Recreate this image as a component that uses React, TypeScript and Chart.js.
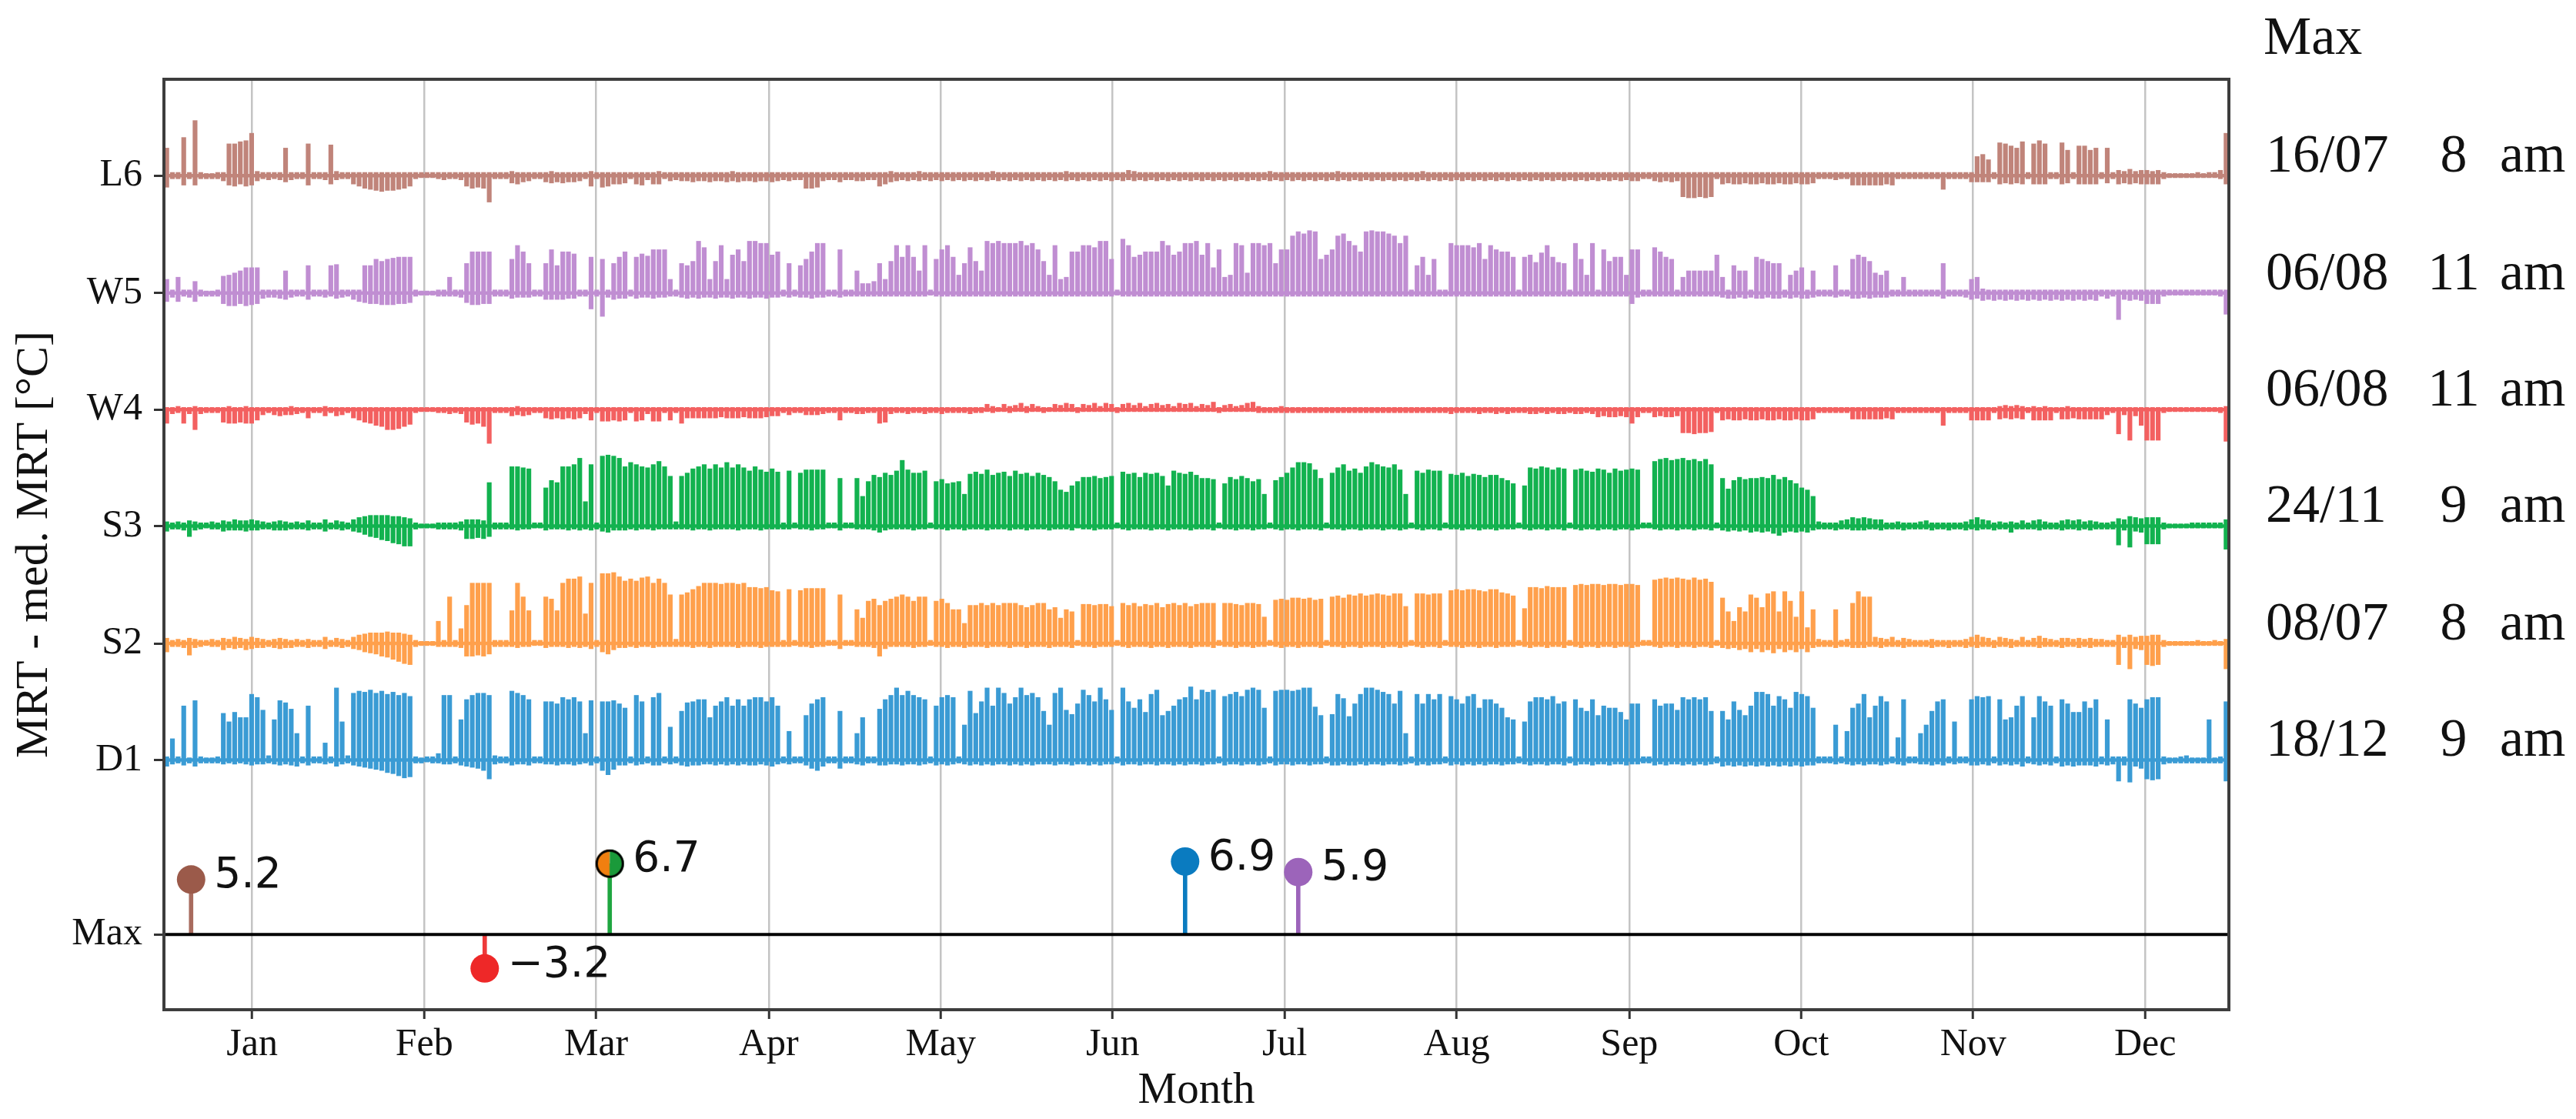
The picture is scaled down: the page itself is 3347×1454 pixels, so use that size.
import React, { useEffect, useRef } from "react";
import { Chart, registerables } from "chart.js";

Chart.register(...registerables);

// ---------- axis / categories ----------
const MONTHS = ["Jan", "Feb", "Mar", "Apr", "May", "Jun", "Jul", "Aug", "Sep", "Oct", "Nov", "Dec"];
const MONTH_TICKS = [15.6, 46.0, 76.4, 106.9, 137.3, 167.7, 198.1, 228.5, 259.0, 289.4, 319.8, 350.2];
const Y_TICK_LABELS = ["Max", "D1", "S2", "S3", "W4", "W5", "L6"];
const Y_TICK_VALUES = [0, 16.5, 27.5, 38.6, 49.6, 60.6, 71.7];

// ---------- series ----------
const SERIES = ["D1", "S2", "S3", "W4", "W5", "L6"];
const SERIES_OFFSET = [16.5, 27.5, 38.6, 49.6, 60.6, 71.7];
const SERIES_COLOR = ["#3a9bd4", "#ffa04c", "#12b24f", "#f36060", "#c08ed2", "#c0847a"];

// daily peak (above) and dip (below) of MRT - median MRT, degC
const D1_HI = [
  0.3,2.0,0.3,5.1,0.2,5.6,0.3,0.2,0.2,0.3,
  4.4,3.6,4.5,4.0,4.0,6.2,5.9,4.7,0.4,3.8,
  5.6,5.4,4.8,2.5,0.3,5.1,0.3,0.3,1.6,0.3,
  6.8,3.6,0.4,6.3,6.5,6.4,6.6,6.3,6.5,6.2,
  6.4,6.1,6.3,6.0,0.3,0.2,0.3,0.3,0.6,6.1,
  6.1,0.3,3.8,5.7,6.1,6.3,6.3,6.1,0.4,0.3,
  0.3,6.5,6.3,6.1,5.7,0.3,0.3,5.5,5.5,5.3,
  5.9,5.7,5.9,5.5,2.5,5.6,0.3,5.5,5.5,5.6,
  5.3,4.9,0.3,6.1,5.5,0.3,5.9,6.3,0.3,3.1,
  0.3,4.6,5.4,5.5,5.7,5.7,4.0,5.1,5.5,5.9,
  5.1,5.7,5.1,5.7,5.9,5.9,5.5,5.9,5.1,0.3,
  2.7,0.3,0.3,4.2,5.3,5.7,5.9,0.3,0.3,4.6,
  0.3,0.3,2.5,4.0,0.3,0.3,4.8,5.7,6.1,6.8,
  6.1,6.5,6.1,5.9,5.7,0.3,5.1,5.9,6.1,5.9,
  0.3,3.3,6.5,4.4,5.5,6.8,5.1,6.8,6.3,5.3,
  5.9,6.8,6.1,6.3,5.9,4.6,3.3,6.3,6.8,4.7,
  4.3,5.3,6.6,6.1,5.5,6.8,5.7,4.7,0.3,6.8,
  5.5,4.9,5.7,4.5,6.2,6.6,4.2,4.6,5.1,5.7,
  5.9,6.9,5.7,6.6,6.4,6.6,0.3,6.0,6.2,6.4,
  6.0,6.6,6.8,6.6,4.9,0.3,6.5,6.6,6.6,6.5,
  6.6,6.8,6.8,5.0,4.2,0.3,4.3,6.2,5.8,4.1,
  5.3,6.2,6.8,6.8,6.6,6.4,6.2,5.3,6.5,2.5,
  0.3,6.2,5.3,6.2,5.7,6.2,0.3,6.0,5.7,5.3,
  6.0,6.2,4.9,5.7,5.7,5.3,4.9,4.0,3.8,0.3,
  3.6,5.5,5.9,5.9,5.7,6.0,5.3,5.5,0.3,5.7,
  4.9,4.6,5.7,4.2,5.1,4.9,4.9,4.5,3.8,5.3,
  5.3,0.3,0.3,5.7,5.1,5.3,5.3,4.7,5.9,5.7,
  5.9,5.7,5.9,4.6,0.3,4.6,3.8,5.5,4.7,4.2,
  5.1,6.4,6.4,6.2,5.1,6.0,5.7,4.9,6.4,6.2,
  6.0,4.9,0.3,0.3,0.3,3.3,0.3,2.7,4.9,5.3,
  6.2,4.0,5.1,6.0,5.5,0.3,2.1,5.7,0.3,0.3,
  2.5,3.3,4.6,5.5,5.7,0.3,3.6,0.3,0.3,5.7,
  6.0,5.9,6.0,0.3,5.7,3.8,4.0,5.1,6.0,0.3,
  4.0,6.0,5.5,5.1,0.3,5.7,5.3,4.5,4.5,5.5,
  4.9,5.7,0.3,3.8,0.3,0.3,0.3,5.7,5.3,4.9,
  5.7,5.9,5.9,0.3,0.2,0.2,0.3,0.4,0.2,0.2,
  0.2,3.8,0.2,0.3,5.5,
];
const D1_LO = [
  -0.6,-0.4,-0.3,-0.5,-0.3,-0.6,-0.3,-0.3,-0.3,-0.3,
  -0.4,-0.3,-0.4,-0.3,-0.4,-0.5,-0.4,-0.4,-0.3,-0.4,
  -0.5,-0.4,-0.5,-0.6,-0.3,-0.5,-0.3,-0.3,-0.4,-0.3,
  -0.6,-0.4,-0.3,-0.5,-0.6,-0.7,-0.8,-0.9,-1.0,-1.2,
  -1.3,-1.5,-1.7,-1.6,-0.3,-0.3,-0.2,-0.3,-0.3,-0.4,
  -0.4,-0.3,-0.5,-0.6,-0.7,-0.8,-1.0,-1.8,-0.4,-0.3,
  -0.3,-0.5,-0.4,-0.4,-0.5,-0.3,-0.3,-0.4,-0.4,-0.5,
  -0.4,-0.4,-0.5,-0.4,-0.3,-0.5,-0.3,-1.0,-1.4,-0.9,
  -0.5,-0.5,-0.3,-0.5,-0.4,-0.3,-0.5,-0.5,-0.3,-0.4,
  -0.3,-0.5,-0.6,-0.5,-0.5,-0.4,-0.4,-0.5,-0.4,-0.5,
  -0.4,-0.5,-0.4,-0.5,-0.5,-0.4,-0.5,-0.6,-0.4,-0.3,
  -0.4,-0.3,-0.3,-0.5,-0.8,-1.0,-0.6,-0.3,-0.3,-0.8,
  -0.3,-0.3,-0.4,-0.5,-0.3,-0.3,-0.5,-0.5,-0.4,-0.4,
  -0.5,-0.4,-0.4,-0.5,-0.4,-0.3,-0.5,-0.4,-0.5,-0.4,
  -0.3,-0.4,-0.5,-0.4,-0.5,-0.4,-0.5,-0.4,-0.4,-0.5,
  -0.4,-0.5,-0.4,-0.5,-0.4,-0.4,-0.4,-0.5,-0.4,-0.4,
  -0.5,-0.4,-0.4,-0.5,-0.4,-0.5,-0.4,-0.4,-0.3,-0.5,
  -0.4,-0.4,-0.5,-0.4,-0.4,-0.5,-0.4,-0.4,-0.5,-0.4,
  -0.5,-0.4,-0.4,-0.5,-0.4,-0.4,-0.3,-0.5,-0.4,-0.4,
  -0.5,-0.4,-0.4,-0.5,-0.4,-0.3,-0.5,-0.4,-0.4,-0.5,
  -0.4,-0.4,-0.5,-0.4,-0.4,-0.3,-0.5,-0.5,-0.4,-0.5,
  -0.5,-0.4,-0.5,-0.4,-0.4,-0.5,-0.4,-0.4,-0.5,-0.4,
  -0.3,-0.5,-0.4,-0.5,-0.4,-0.4,-0.3,-0.5,-0.4,-0.5,
  -0.4,-0.5,-0.4,-0.5,-0.4,-0.4,-0.5,-0.4,-0.4,-0.3,
  -0.4,-0.5,-0.4,-0.4,-0.5,-0.4,-0.4,-0.5,-0.3,-0.5,
  -0.4,-0.4,-0.5,-0.4,-0.4,-0.5,-0.4,-0.4,-0.5,-0.4,
  -0.4,-0.3,-0.3,-0.5,-0.4,-0.5,-0.4,-0.4,-0.5,-0.4,
  -0.5,-0.4,-0.5,-0.4,-0.3,-0.6,-0.5,-0.6,-0.5,-0.6,
  -0.5,-0.6,-0.5,-0.6,-0.5,-0.6,-0.5,-0.6,-0.5,-0.6,
  -0.5,-0.5,-0.3,-0.3,-0.3,-0.4,-0.3,-0.4,-0.5,-0.4,
  -0.5,-0.4,-0.4,-0.5,-0.4,-0.3,-0.4,-0.5,-0.3,-0.3,
  -0.4,-0.4,-0.5,-0.4,-0.5,-0.3,-0.4,-0.3,-0.3,-0.5,
  -0.5,-0.4,-0.5,-0.3,-0.5,-0.4,-0.5,-0.4,-0.6,-0.3,
  -0.4,-0.5,-0.4,-0.5,-0.3,-0.6,-0.5,-0.6,-0.5,-0.5,
  -0.5,-0.6,-0.4,-0.5,-0.4,-2.0,-0.5,-2.1,-0.6,-0.8,
  -1.8,-1.9,-1.8,-0.4,-0.3,-0.3,-0.3,-0.3,-0.3,-0.3,
  -0.3,-0.3,-0.3,-0.3,-2.0,
];
const S2_HI = [
  0.5,0.3,0.4,0.3,0.5,0.4,0.3,0.3,0.4,0.3,
  0.5,0.4,0.6,0.5,0.4,0.6,0.5,0.4,0.3,0.4,
  0.5,0.4,0.3,0.4,0.3,0.4,0.3,0.3,0.6,0.3,
  0.5,0.4,0.3,0.6,0.8,0.9,1.0,1.0,1.0,1.1,
  1.0,1.0,0.9,0.8,0.3,0.2,0.2,0.2,2.1,0.3,
  4.4,0.3,1.4,3.6,5.7,5.7,5.7,5.7,0.3,0.3,
  0.3,3.1,5.7,4.4,3.1,0.3,0.3,4.4,4.2,3.1,
  5.7,6.1,6.1,6.3,2.8,5.7,0.3,6.6,6.6,6.7,
  6.3,5.9,6.1,5.9,6.2,6.3,5.7,6.1,5.7,4.6,
  0.4,4.6,4.8,5.1,5.4,5.7,5.7,5.7,5.6,5.7,
  5.7,5.6,5.7,5.3,5.3,5.2,5.3,5.0,4.9,0.3,
  5.1,0.3,5.0,5.2,5.2,5.2,5.2,0.3,0.3,4.6,
  0.3,0.3,3.2,2.4,4.0,4.2,3.6,4.0,4.2,4.4,
  4.6,4.4,4.0,4.4,4.4,0.3,4.0,4.2,3.8,3.2,
  3.2,1.9,3.6,3.6,3.8,3.6,3.8,3.6,3.8,3.8,
  3.8,3.6,3.4,3.6,3.8,3.8,3.2,3.4,2.4,3.2,
  3.0,0.3,3.7,3.7,3.6,3.7,3.7,3.5,0.3,3.8,
  3.6,3.8,3.5,3.7,3.6,3.8,3.4,3.7,3.8,3.6,
  3.8,3.5,3.7,3.8,3.8,3.8,0.3,3.8,3.8,3.7,
  3.6,3.8,3.8,3.7,2.5,0.3,4.1,4.2,4.1,4.3,
  4.3,4.2,4.3,4.1,4.2,0.3,4.4,4.5,4.3,4.6,
  4.5,4.7,4.5,4.6,4.7,4.6,4.5,4.7,4.7,3.5,
  0.3,4.7,4.7,4.6,4.7,4.7,0.3,5.0,5.1,5.0,
  5.1,5.1,5.0,4.9,5.1,5.1,4.8,4.7,4.5,0.3,
  3.3,5.3,5.3,5.2,5.4,5.3,5.3,5.3,0.3,5.5,
  5.6,5.5,5.6,5.6,5.5,5.6,5.6,5.5,5.6,5.6,
  5.5,0.3,0.3,6.0,6.1,6.2,6.1,6.2,6.1,6.0,
  6.2,6.0,6.1,5.8,0.3,4.3,3.0,2.1,3.4,3.0,
  4.6,4.3,3.4,4.7,4.9,3.0,4.9,4.0,2.5,4.9,
  1.5,3.2,0.4,0.3,0.3,3.2,0.3,0.4,3.8,4.9,
  4.4,4.4,0.6,0.5,0.4,0.6,0.3,0.5,0.4,0.3,
  0.3,0.3,0.4,0.3,0.3,0.3,0.3,0.3,0.4,0.6,
  0.8,0.6,0.5,0.3,0.6,0.5,0.4,0.3,0.6,0.3,
  0.5,0.7,0.5,0.4,0.3,0.5,0.5,0.4,0.5,0.4,
  0.5,0.4,0.4,0.3,0.3,0.8,0.6,0.8,0.6,0.7,
  0.7,0.8,0.8,0.3,0.2,0.2,0.2,0.2,0.2,0.3,
  0.2,0.2,0.3,0.2,0.4,
];
const S2_LO = [
  -0.8,-0.3,-0.3,-0.4,-1.1,-0.4,-0.3,-0.2,-0.3,-0.3,
  -0.6,-0.4,-0.5,-0.4,-0.6,-0.5,-0.4,-0.4,-0.3,-0.4,
  -0.5,-0.4,-0.4,-0.3,-0.3,-0.4,-0.3,-0.3,-0.5,-0.3,
  -0.3,-0.4,-0.3,-0.5,-0.6,-0.8,-0.9,-1.0,-1.2,-1.3,
  -1.5,-1.7,-1.9,-2.0,-0.3,-0.2,-0.2,-0.2,-0.3,-0.3,
  -0.3,-0.3,-0.4,-1.2,-1.2,-1.1,-1.2,-1.0,-0.3,-0.3,
  -0.3,-0.3,-0.4,-0.3,-0.3,-0.2,-0.2,-0.4,-0.3,-0.3,
  -0.3,-0.4,-0.3,-0.4,-0.3,-0.5,-0.3,-0.8,-1.0,-0.6,
  -0.4,-0.4,-0.3,-0.4,-0.3,-0.3,-0.4,-0.3,-0.3,-0.3,
  -0.3,-0.3,-0.3,-0.4,-0.3,-0.3,-0.4,-0.3,-0.3,-0.3,
  -0.3,-0.4,-0.3,-0.3,-0.3,-0.4,-0.3,-0.3,-0.3,-0.3,
  -0.3,-0.2,-0.3,-0.3,-0.4,-0.3,-0.3,-0.2,-0.2,-0.5,
  -0.2,-0.2,-0.3,-0.3,-0.3,-0.4,-1.2,-0.5,-0.3,-0.3,
  -0.3,-0.3,-0.4,-0.3,-0.3,-0.2,-0.3,-0.3,-0.4,-0.3,
  -0.3,-0.4,-0.3,-0.3,-0.3,-0.4,-0.3,-0.3,-0.3,-0.4,
  -0.3,-0.3,-0.4,-0.3,-0.3,-0.3,-0.4,-0.3,-0.3,-0.3,
  -0.4,-0.2,-0.3,-0.3,-0.4,-0.3,-0.3,-0.3,-0.2,-0.3,
  -0.4,-0.3,-0.3,-0.3,-0.4,-0.3,-0.3,-0.4,-0.3,-0.3,
  -0.3,-0.4,-0.3,-0.3,-0.3,-0.4,-0.2,-0.3,-0.3,-0.4,
  -0.3,-0.3,-0.4,-0.3,-0.3,-0.2,-0.3,-0.4,-0.3,-0.3,
  -0.4,-0.3,-0.3,-0.3,-0.4,-0.2,-0.3,-0.3,-0.4,-0.3,
  -0.3,-0.4,-0.3,-0.3,-0.3,-0.4,-0.3,-0.3,-0.4,-0.3,
  -0.2,-0.3,-0.4,-0.3,-0.3,-0.4,-0.2,-0.3,-0.3,-0.4,
  -0.3,-0.3,-0.4,-0.3,-0.3,-0.4,-0.3,-0.3,-0.3,-0.2,
  -0.3,-0.4,-0.3,-0.3,-0.4,-0.3,-0.3,-0.4,-0.2,-0.3,
  -0.4,-0.3,-0.3,-0.4,-0.3,-0.3,-0.4,-0.3,-0.3,-0.4,
  -0.3,-0.2,-0.2,-0.3,-0.4,-0.3,-0.3,-0.4,-0.3,-0.3,
  -0.4,-0.3,-0.3,-0.4,-0.2,-0.4,-0.5,-0.4,-0.6,-0.5,
  -0.8,-0.5,-0.8,-0.6,-0.9,-0.5,-0.8,-0.6,-0.8,-0.5,
  -0.8,-0.4,-0.3,-0.3,-0.3,-0.4,-0.3,-0.3,-0.4,-0.4,
  -0.4,-0.3,-0.3,-0.4,-0.3,-0.3,-0.3,-0.4,-0.3,-0.3,
  -0.3,-0.3,-0.4,-0.3,-0.3,-0.4,-0.3,-0.3,-0.4,-0.3,
  -0.4,-0.3,-0.3,-0.4,-0.3,-0.3,-0.4,-0.3,-0.3,-0.3,
  -0.3,-0.4,-0.3,-0.3,-0.3,-0.4,-0.3,-0.3,-0.4,-0.3,
  -0.4,-0.3,-0.3,-0.3,-0.3,-2.0,-0.4,-2.4,-0.5,-0.6,
  -2.0,-2.1,-2.0,-0.3,-0.2,-0.2,-0.2,-0.2,-0.2,-0.2,
  -0.2,-0.2,-0.2,-0.2,-2.4,
];
const S3_HI = [
  0.4,0.3,0.4,0.3,0.5,0.4,0.3,0.3,0.4,0.3,
  0.5,0.4,0.6,0.5,0.5,0.6,0.5,0.4,0.3,0.4,
  0.5,0.4,0.3,0.4,0.3,0.5,0.3,0.3,0.6,0.3,
  0.5,0.4,0.3,0.6,0.8,0.9,1.0,1.0,1.0,1.0,
  0.9,0.9,0.8,0.7,0.3,0.2,0.2,0.2,0.3,0.3,
  0.3,0.3,0.4,0.6,0.6,0.6,0.5,4.1,0.3,0.3,
  0.3,5.6,5.6,5.5,5.4,0.3,0.3,3.6,4.3,4.1,
  5.6,5.6,5.8,6.4,2.3,5.8,0.3,6.6,6.7,6.6,
  6.4,5.6,6.0,5.8,5.6,5.5,5.8,6.1,5.6,4.7,
  0.4,4.7,5.0,5.4,5.6,5.8,5.4,5.8,5.5,6.0,
  5.5,5.8,5.5,5.2,5.6,5.3,5.1,5.4,5.1,0.3,
  5.2,0.3,5.0,5.3,5.3,5.3,5.3,0.3,0.3,4.5,
  0.3,0.3,4.5,2.8,4.2,4.8,4.6,5.0,4.8,5.2,
  6.2,5.3,5.0,5.0,5.2,0.3,4.2,4.4,4.0,4.1,
  4.2,3.0,4.9,5.1,4.9,5.3,4.8,5.0,5.1,4.7,
  5.2,4.9,5.0,4.7,5.0,4.8,4.6,4.2,3.4,3.2,
  3.8,4.2,4.6,4.6,4.7,4.5,4.6,4.7,0.3,5.1,
  4.9,5.0,4.6,5.0,4.9,5.0,4.7,3.8,5.2,5.0,
  4.9,5.1,4.8,4.5,4.5,4.4,0.3,4.0,4.6,4.4,
  4.7,4.5,4.2,4.4,3.0,0.3,4.3,4.6,5.0,5.5,
  6.0,6.0,5.9,5.3,4.5,0.3,5.0,5.5,5.8,5.2,
  5.4,5.0,5.6,6.0,5.8,5.6,5.5,5.8,5.3,3.0,
  0.3,5.2,5.0,5.3,5.2,5.2,0.3,4.9,4.8,5.0,
  4.7,4.9,4.8,4.6,4.8,4.8,4.5,4.3,4.0,0.3,
  3.8,5.5,5.4,5.6,5.5,5.3,5.5,5.4,0.3,5.3,
  5.4,5.2,5.1,5.4,5.3,5.0,5.4,5.2,5.3,5.4,
  5.3,0.3,0.3,6.1,6.3,6.4,6.2,6.3,6.4,6.2,
  6.3,6.1,6.3,5.8,0.3,4.5,3.5,4.3,4.6,4.4,
  4.5,4.5,4.6,4.5,4.8,4.4,4.6,4.3,4.0,3.6,
  3.4,2.8,0.4,0.3,0.3,0.3,0.5,0.6,0.8,0.7,
  0.8,0.7,0.6,0.6,0.3,0.3,0.4,0.3,0.3,0.3,
  0.4,0.5,0.3,0.3,0.3,0.3,0.3,0.3,0.4,0.6,
  0.8,0.6,0.5,0.3,0.4,0.3,0.4,0.3,0.5,0.3,
  0.5,0.6,0.4,0.3,0.3,0.5,0.6,0.5,0.6,0.4,
  0.5,0.4,0.3,0.3,0.4,0.7,0.6,0.9,0.8,0.7,
  0.8,0.8,0.8,0.3,0.2,0.2,0.2,0.2,0.3,0.3,
  0.3,0.3,0.3,0.3,0.6,
];
const S3_LO = [
  -0.5,-0.3,-0.3,-0.4,-1.0,-0.4,-0.3,-0.2,-0.3,-0.3,
  -0.5,-0.4,-0.4,-0.4,-0.5,-0.4,-0.4,-0.3,-0.3,-0.4,
  -0.4,-0.4,-0.3,-0.3,-0.3,-0.4,-0.3,-0.3,-0.5,-0.3,
  -0.3,-0.4,-0.3,-0.5,-0.6,-0.8,-1.0,-1.1,-1.3,-1.4,
  -1.6,-1.7,-1.9,-1.9,-0.3,-0.2,-0.2,-0.2,-0.3,-0.3,
  -0.3,-0.3,-0.4,-1.2,-1.2,-1.1,-1.2,-1.0,-0.3,-0.3,
  -0.3,-0.3,-0.4,-0.3,-0.3,-0.2,-0.2,-0.4,-0.3,-0.3,
  -0.3,-0.4,-0.3,-0.4,-0.3,-0.4,-0.3,-0.5,-0.6,-0.4,
  -0.4,-0.4,-0.3,-0.4,-0.3,-0.3,-0.4,-0.3,-0.3,-0.3,
  -0.3,-0.3,-0.3,-0.4,-0.3,-0.3,-0.4,-0.3,-0.3,-0.3,
  -0.3,-0.4,-0.3,-0.3,-0.3,-0.4,-0.3,-0.3,-0.3,-0.3,
  -0.3,-0.2,-0.3,-0.3,-0.4,-0.3,-0.3,-0.2,-0.2,-0.4,
  -0.2,-0.2,-0.3,-0.3,-0.3,-0.4,-0.6,-0.4,-0.3,-0.3,
  -0.3,-0.3,-0.4,-0.3,-0.3,-0.2,-0.3,-0.3,-0.4,-0.3,
  -0.3,-0.4,-0.3,-0.3,-0.3,-0.4,-0.3,-0.3,-0.3,-0.4,
  -0.3,-0.3,-0.4,-0.3,-0.3,-0.3,-0.4,-0.3,-0.3,-0.3,
  -0.4,-0.2,-0.3,-0.3,-0.4,-0.3,-0.3,-0.3,-0.2,-0.3,
  -0.4,-0.3,-0.3,-0.3,-0.4,-0.3,-0.3,-0.4,-0.3,-0.3,
  -0.3,-0.4,-0.3,-0.3,-0.3,-0.4,-0.2,-0.3,-0.3,-0.4,
  -0.3,-0.3,-0.4,-0.3,-0.3,-0.2,-0.3,-0.4,-0.3,-0.3,
  -0.4,-0.3,-0.3,-0.3,-0.4,-0.2,-0.3,-0.3,-0.4,-0.3,
  -0.3,-0.4,-0.3,-0.3,-0.3,-0.4,-0.3,-0.3,-0.4,-0.3,
  -0.2,-0.3,-0.4,-0.3,-0.3,-0.4,-0.2,-0.3,-0.3,-0.4,
  -0.3,-0.3,-0.4,-0.3,-0.3,-0.4,-0.3,-0.3,-0.3,-0.2,
  -0.3,-0.4,-0.3,-0.3,-0.4,-0.3,-0.3,-0.4,-0.2,-0.3,
  -0.4,-0.3,-0.3,-0.4,-0.3,-0.3,-0.4,-0.3,-0.3,-0.4,
  -0.3,-0.2,-0.2,-0.3,-0.4,-0.3,-0.3,-0.4,-0.3,-0.3,
  -0.4,-0.3,-0.3,-0.4,-0.2,-0.4,-0.5,-0.4,-0.5,-0.4,
  -0.6,-0.5,-0.6,-0.5,-0.7,-0.9,-0.6,-0.5,-0.6,-0.5,
  -0.6,-0.4,-0.3,-0.3,-0.3,-0.4,-0.3,-0.3,-0.4,-0.4,
  -0.4,-0.3,-0.3,-0.4,-0.3,-0.3,-0.3,-0.4,-0.3,-0.3,
  -0.3,-0.3,-0.4,-0.3,-0.3,-0.4,-0.3,-0.3,-0.4,-0.3,
  -0.4,-0.3,-0.3,-0.4,-0.3,-0.3,-0.6,-0.3,-0.3,-0.3,
  -0.3,-0.4,-0.3,-0.3,-0.3,-0.4,-0.3,-0.3,-0.4,-0.3,
  -0.4,-0.3,-0.3,-0.3,-0.3,-1.8,-0.4,-2.0,-0.5,-0.6,
  -1.7,-1.7,-1.7,-0.3,-0.2,-0.2,-0.2,-0.2,-0.2,-0.2,
  -0.2,-0.2,-0.2,-0.2,-2.2,
];
const W4_HI = [
  0.2,0.2,0.3,0.2,0.2,0.3,0.2,0.2,0.2,0.2,
  0.2,0.3,0.2,0.2,0.3,0.2,0.2,0.2,0.2,0.2,
  0.2,0.2,0.3,0.2,0.2,0.2,0.2,0.2,0.3,0.2,
  0.2,0.2,0.2,0.2,0.2,0.2,0.2,0.2,0.2,0.2,
  0.2,0.2,0.2,0.2,0.2,0.2,0.2,0.2,0.2,0.2,
  0.2,0.2,0.2,0.2,0.2,0.2,0.2,0.2,0.2,0.2,
  0.2,0.2,0.3,0.2,0.2,0.2,0.2,0.2,0.2,0.2,
  0.2,0.2,0.2,0.2,0.2,0.2,0.2,0.2,0.2,0.2,
  0.2,0.2,0.2,0.2,0.2,0.2,0.2,0.2,0.2,0.2,
  0.2,0.2,0.2,0.2,0.2,0.2,0.2,0.2,0.2,0.2,
  0.2,0.2,0.2,0.2,0.2,0.2,0.2,0.2,0.2,0.2,
  0.2,0.2,0.2,0.2,0.2,0.2,0.2,0.2,0.2,0.2,
  0.2,0.2,0.2,0.2,0.2,0.2,0.2,0.2,0.2,0.2,
  0.2,0.2,0.2,0.2,0.2,0.2,0.2,0.2,0.2,0.2,
  0.2,0.2,0.2,0.2,0.2,0.5,0.3,0.2,0.5,0.3,
  0.4,0.6,0.3,0.5,0.3,0.2,0.2,0.5,0.4,0.6,
  0.5,0.2,0.5,0.4,0.6,0.3,0.6,0.5,0.2,0.5,
  0.6,0.4,0.6,0.3,0.5,0.6,0.4,0.5,0.3,0.6,
  0.5,0.6,0.3,0.5,0.4,0.7,0.2,0.4,0.5,0.3,
  0.4,0.6,0.7,0.3,0.2,0.2,0.2,0.3,0.2,0.2,
  0.2,0.2,0.2,0.2,0.2,0.2,0.2,0.2,0.2,0.2,
  0.2,0.2,0.2,0.2,0.2,0.2,0.2,0.2,0.2,0.2,
  0.2,0.2,0.2,0.2,0.2,0.2,0.2,0.2,0.2,0.2,
  0.2,0.2,0.2,0.2,0.2,0.2,0.2,0.2,0.2,0.2,
  0.2,0.2,0.2,0.2,0.2,0.2,0.2,0.2,0.2,0.2,
  0.2,0.2,0.2,0.2,0.2,0.2,0.2,0.2,0.2,0.2,
  0.2,0.2,0.2,0.2,0.2,0.2,0.2,0.2,0.2,0.2,
  0.2,0.2,0.2,0.2,0.2,0.2,0.2,0.2,0.2,0.2,
  0.2,0.2,0.2,0.2,0.2,0.2,0.2,0.2,0.2,0.2,
  0.2,0.2,0.2,0.2,0.2,0.2,0.2,0.2,0.2,0.2,
  0.2,0.2,0.2,0.2,0.2,0.2,0.2,0.2,0.2,0.2,
  0.2,0.2,0.2,0.2,0.2,0.2,0.2,0.2,0.2,0.2,
  0.2,0.2,0.2,0.2,0.3,0.4,0.3,0.4,0.3,0.2,
  0.3,0.2,0.3,0.2,0.2,0.2,0.3,0.2,0.2,0.2,
  0.2,0.2,0.2,0.2,0.2,0.2,0.2,0.2,0.2,0.2,
  0.2,0.2,0.2,0.2,0.2,0.2,0.2,0.2,0.2,0.2,
  0.2,0.2,0.2,0.2,0.3,
];
const W4_LO = [
  -1.3,-0.4,-0.3,-1.3,-0.4,-1.9,-0.4,-0.3,-0.3,-0.3,
  -1.2,-1.3,-1.3,-1.2,-1.3,-1.3,-1.0,-0.5,-0.3,-0.5,
  -0.6,-0.5,-0.5,-0.4,-0.3,-0.8,-0.3,-0.3,-0.6,-0.3,
  -0.6,-0.5,-0.3,-0.8,-1.0,-1.2,-1.3,-1.5,-1.6,-1.9,
  -1.9,-1.8,-1.6,-1.4,-0.3,-0.2,-0.2,-0.2,-0.3,-0.3,
  -0.4,-0.3,-0.4,-1.2,-1.4,-1.3,-1.6,-3.2,-0.3,-0.3,
  -0.3,-0.6,-0.5,-0.6,-0.5,-0.3,-0.3,-0.8,-0.9,-0.8,
  -0.9,-0.8,-0.9,-0.8,-0.4,-1.0,-0.3,-1.1,-1.1,-1.0,
  -1.1,-1.0,-0.3,-1.1,-1.0,-0.4,-1.1,-1.1,-0.3,-1.0,
  -0.3,-1.3,-0.8,-0.8,-0.8,-0.8,-0.8,-0.8,-0.7,-0.8,
  -0.8,-0.8,-0.7,-0.8,-0.8,-0.8,-0.7,-0.6,-0.6,-0.3,
  -0.5,-0.3,-0.3,-0.5,-0.5,-0.5,-0.4,-0.3,-0.3,-1.0,
  -0.3,-0.3,-0.4,-0.4,-0.3,-0.3,-1.3,-1.2,-0.4,-0.3,
  -0.3,-0.4,-0.3,-0.3,-0.4,-0.3,-0.3,-0.4,-0.3,-0.3,
  -0.3,-0.3,-0.4,-0.3,-0.3,-0.2,-0.3,-0.2,-0.2,-0.3,
  -0.2,-0.2,-0.3,-0.2,-0.2,-0.3,-0.2,-0.2,-0.2,-0.2,
  -0.2,-0.3,-0.2,-0.2,-0.2,-0.2,-0.2,-0.2,-0.3,-0.2,
  -0.2,-0.2,-0.2,-0.2,-0.2,-0.2,-0.2,-0.2,-0.2,-0.2,
  -0.2,-0.2,-0.2,-0.2,-0.2,-0.2,-0.3,-0.2,-0.2,-0.2,
  -0.2,-0.2,-0.2,-0.3,-0.3,-0.3,-0.3,-0.3,-0.3,-0.3,
  -0.3,-0.3,-0.3,-0.3,-0.3,-0.3,-0.3,-0.3,-0.3,-0.3,
  -0.3,-0.3,-0.3,-0.3,-0.3,-0.3,-0.3,-0.3,-0.3,-0.3,
  -0.3,-0.3,-0.3,-0.3,-0.3,-0.3,-0.3,-0.4,-0.3,-0.3,
  -0.3,-0.3,-0.4,-0.3,-0.3,-0.4,-0.3,-0.4,-0.3,-0.3,
  -0.3,-0.4,-0.4,-0.3,-0.4,-0.3,-0.4,-0.4,-0.3,-0.4,
  -0.4,-0.3,-0.4,-0.7,-0.6,-0.7,-0.7,-0.6,-0.7,-1.3,
  -0.7,-0.3,-0.3,-0.7,-0.6,-0.7,-0.7,-0.6,-2.2,-2.2,
  -2.3,-2.2,-2.2,-2.1,-0.3,-1.0,-0.9,-1.0,-1.0,-0.9,
  -1.0,-1.0,-0.9,-1.0,-1.0,-0.9,-1.0,-1.0,-0.9,-1.0,
  -1.0,-0.9,-0.3,-0.3,-0.3,-0.3,-0.3,-0.3,-0.9,-0.9,
  -0.9,-0.9,-0.9,-0.9,-0.8,-0.9,-0.3,-0.3,-0.3,-0.3,
  -0.3,-0.3,-0.3,-0.3,-1.5,-0.3,-0.3,-0.3,-0.3,-1.0,
  -1.0,-1.0,-1.0,-0.3,-0.9,-0.8,-0.9,-0.8,-0.9,-0.3,
  -1.0,-1.0,-1.0,-1.0,-0.3,-0.9,-0.9,-0.8,-0.9,-0.9,
  -0.9,-0.9,-0.9,-0.5,-0.3,-2.3,-0.5,-2.9,-0.6,-1.5,
  -2.9,-2.9,-2.9,-0.3,-0.2,-0.2,-0.2,-0.2,-0.2,-0.2,
  -0.2,-0.2,-0.2,-0.3,-3.0,
];
const W5_HI = [
  1.3,0.3,1.5,0.3,0.3,1.1,0.3,0.2,0.2,0.3,
  1.6,1.7,1.9,2.1,2.4,2.4,2.4,0.3,0.3,0.3,
  0.3,2.1,0.3,0.3,0.3,2.6,0.3,0.3,0.3,2.6,
  2.7,0.3,0.3,0.3,0.3,2.6,2.6,3.2,3.0,3.2,
  3.3,3.4,3.4,3.4,0.3,0.2,0.2,0.2,0.3,0.3,
  1.5,0.3,0.3,2.8,3.9,3.9,3.9,3.9,0.3,0.3,
  0.3,3.2,4.5,3.9,2.8,0.3,0.3,2.8,4.1,2.6,
  3.9,3.9,3.7,0.3,0.3,3.4,0.3,3.2,0.3,2.8,
  3.4,3.9,0.3,3.4,3.7,3.5,4.1,4.1,4.1,1.3,
  0.3,2.8,2.6,3.0,4.9,4.3,1.3,3.0,4.5,1.3,
  3.6,4.1,3.0,4.9,4.9,4.7,4.7,3.6,3.9,0.3,
  2.8,0.3,2.6,3.2,3.9,4.7,4.7,0.3,0.3,4.1,
  0.3,0.3,2.1,0.9,0.9,1.1,2.8,1.3,3.0,4.5,
  3.4,4.5,3.4,2.1,4.5,0.3,3.2,4.1,4.5,3.4,
  1.7,2.8,4.3,3.0,2.1,4.9,4.7,4.9,4.7,4.7,
  4.7,4.9,4.5,4.7,4.1,3.0,1.7,4.5,1.3,1.5,
  3.9,3.9,4.5,4.5,4.3,4.9,4.9,3.2,0.3,5.1,
  4.5,3.4,3.6,3.9,3.9,3.9,4.9,4.5,3.6,3.9,
  4.7,4.7,4.9,3.6,4.7,2.4,4.1,1.5,1.7,4.7,
  4.5,1.9,4.7,4.7,4.5,4.7,2.8,4.1,4.1,5.4,
  5.8,5.6,5.9,5.8,3.2,3.6,4.1,5.4,5.6,4.9,
  4.5,3.9,5.8,5.9,5.8,5.8,5.6,5.4,4.7,5.4,
  0.3,2.6,3.4,1.7,3.2,0.3,0.3,4.7,4.5,4.5,
  4.5,4.3,4.7,3.2,4.5,4.1,3.9,3.9,3.4,0.3,
  3.4,3.6,2.9,3.8,4.5,3.4,2.9,2.8,0.3,4.7,
  3.2,1.7,4.7,0.3,4.1,3.0,3.4,3.4,1.7,4.1,
  4.1,0.3,0.3,4.3,3.9,3.4,3.2,0.3,1.5,2.1,
  2.1,2.1,2.1,2.1,3.6,1.5,0.3,2.6,2.1,2.1,
  0.3,3.4,3.2,3.0,2.8,2.8,0.3,1.7,2.1,2.4,
  0.3,2.1,0.3,0.3,0.3,2.6,0.3,0.3,3.2,3.6,
  3.4,3.0,1.9,1.7,2.1,0.3,0.3,1.5,0.3,0.3,
  0.3,0.3,0.3,0.3,2.8,0.3,0.3,0.3,0.3,1.3,
  1.5,0.4,0.3,0.3,0.3,0.3,0.3,0.3,0.3,0.3,
  0.3,0.3,0.3,0.3,0.3,0.3,0.3,0.3,0.3,0.3,
  0.3,0.3,0.3,0.3,0.3,0.3,0.3,0.3,0.3,0.3,
  0.3,0.3,0.3,0.3,0.3,0.3,0.3,0.3,0.3,0.3,
  0.3,0.3,0.3,0.3,0.3,
];
const W5_LO = [
  -0.8,-0.4,-0.8,-0.3,-0.4,-0.8,-0.3,-0.3,-0.3,-0.3,
  -1.0,-1.2,-1.2,-1.0,-1.2,-1.1,-1.0,-0.5,-0.4,-0.4,
  -0.5,-0.6,-0.4,-0.3,-0.3,-0.6,-0.3,-0.3,-0.4,-0.3,
  -0.5,-0.4,-0.3,-0.6,-0.8,-0.9,-1.0,-1.0,-1.1,-1.1,
  -1.1,-1.0,-1.0,-0.9,-0.3,-0.2,-0.2,-0.2,-0.3,-0.3,
  -0.3,-0.3,-0.4,-0.9,-1.1,-1.1,-1.0,-1.0,-0.3,-0.3,
  -0.3,-0.5,-0.4,-0.4,-0.4,-0.3,-0.3,-0.6,-0.6,-0.6,
  -0.6,-0.5,-0.5,-0.3,-0.3,-1.5,-0.3,-2.2,-0.4,-0.6,
  -0.5,-0.5,-0.3,-0.5,-0.4,-0.4,-0.5,-0.4,-0.4,-0.3,
  -0.3,-0.4,-0.5,-0.4,-0.5,-0.4,-0.4,-0.5,-0.4,-0.4,
  -0.5,-0.4,-0.4,-0.5,-0.4,-0.4,-0.5,-0.4,-0.4,-0.3,
  -0.4,-0.3,-0.4,-0.4,-0.5,-0.4,-0.4,-0.3,-0.3,-0.4,
  -0.3,-0.3,-0.3,-0.3,-0.3,-0.3,-0.3,-0.3,-0.3,-0.3,
  -0.3,-0.3,-0.3,-0.3,-0.3,-0.2,-0.3,-0.3,-0.3,-0.3,
  -0.3,-0.3,-0.3,-0.3,-0.3,-0.3,-0.3,-0.3,-0.3,-0.3,
  -0.3,-0.3,-0.3,-0.3,-0.3,-0.3,-0.3,-0.3,-0.3,-0.3,
  -0.3,-0.3,-0.3,-0.3,-0.3,-0.3,-0.3,-0.3,-0.2,-0.3,
  -0.3,-0.3,-0.3,-0.3,-0.3,-0.3,-0.3,-0.3,-0.3,-0.3,
  -0.3,-0.3,-0.3,-0.3,-0.3,-0.3,-0.3,-0.3,-0.3,-0.3,
  -0.3,-0.3,-0.3,-0.3,-0.3,-0.3,-0.3,-0.3,-0.3,-0.3,
  -0.3,-0.3,-0.3,-0.3,-0.3,-0.3,-0.3,-0.3,-0.3,-0.3,
  -0.3,-0.3,-0.3,-0.3,-0.3,-0.3,-0.3,-0.3,-0.3,-0.3,
  -0.3,-0.3,-0.3,-0.3,-0.3,-0.3,-0.3,-0.3,-0.3,-0.3,
  -0.3,-0.3,-0.3,-0.3,-0.3,-0.3,-0.3,-0.3,-0.3,-0.3,
  -0.3,-0.3,-0.3,-0.3,-0.3,-0.3,-0.3,-0.3,-0.3,-0.3,
  -0.3,-0.3,-0.3,-0.3,-0.3,-0.3,-0.3,-0.3,-0.3,-1.0,
  -0.4,-0.3,-0.3,-0.3,-0.3,-0.3,-0.3,-0.3,-0.3,-0.3,
  -0.3,-0.3,-0.3,-0.3,-0.3,-0.4,-0.5,-0.5,-0.4,-0.5,
  -0.4,-0.5,-0.5,-0.4,-0.5,-0.5,-0.4,-0.5,-0.4,-0.5,
  -0.5,-0.4,-0.3,-0.3,-0.3,-0.4,-0.3,-0.3,-0.5,-0.5,
  -0.4,-0.5,-0.4,-0.4,-0.4,-0.3,-0.3,-0.3,-0.3,-0.3,
  -0.3,-0.3,-0.3,-0.3,-0.5,-0.3,-0.3,-0.3,-0.4,-0.6,
  -0.5,-0.7,-0.6,-0.7,-0.6,-0.7,-0.6,-0.7,-0.6,-0.7,
  -0.6,-0.7,-0.6,-0.7,-0.6,-0.7,-0.6,-0.7,-0.6,-0.7,
  -0.6,-0.7,-0.3,-0.5,-0.3,-2.5,-0.6,-0.7,-0.6,-0.7,
  -1.0,-1.0,-1.0,-0.3,-0.2,-0.2,-0.2,-0.2,-0.2,-0.2,
  -0.2,-0.2,-0.2,-0.3,-2.0,
];
const L6_HI = [
  2.6,0.3,0.3,3.6,0.3,5.2,0.3,0.2,0.2,0.3,
  0.3,3.0,3.0,3.2,3.3,4.0,0.4,0.3,0.3,0.3,
  0.3,2.6,0.3,0.3,0.3,3.0,0.3,0.3,0.3,2.9,
  0.4,0.3,0.3,0.3,0.3,0.3,0.3,0.3,0.3,0.3,
  0.3,0.3,0.3,0.3,0.3,0.3,0.3,0.3,0.3,0.3,
  0.3,0.3,0.3,0.3,0.3,0.3,0.3,0.3,0.3,0.3,
  0.3,0.4,0.3,0.3,0.3,0.3,0.3,0.3,0.4,0.3,
  0.3,0.3,0.3,0.3,0.3,0.4,0.3,0.3,0.3,0.3,
  0.3,0.3,0.3,0.3,0.3,0.3,0.3,0.4,0.3,0.3,
  0.3,0.3,0.3,0.3,0.3,0.3,0.3,0.3,0.3,0.3,
  0.4,0.3,0.3,0.3,0.3,0.3,0.3,0.3,0.3,0.3,
  0.3,0.3,0.3,0.3,0.3,0.3,0.3,0.3,0.3,0.3,
  0.3,0.3,0.3,0.3,0.3,0.3,0.3,0.3,0.4,0.3,
  0.3,0.3,0.3,0.4,0.3,0.3,0.3,0.3,0.3,0.3,
  0.3,0.3,0.3,0.3,0.3,0.3,0.4,0.3,0.3,0.3,
  0.3,0.3,0.3,0.3,0.3,0.3,0.3,0.3,0.3,0.4,
  0.3,0.3,0.3,0.3,0.3,0.3,0.3,0.3,0.3,0.3,
  0.5,0.4,0.3,0.3,0.3,0.3,0.3,0.3,0.3,0.3,
  0.3,0.3,0.3,0.3,0.3,0.3,0.3,0.3,0.3,0.3,
  0.3,0.3,0.3,0.3,0.3,0.4,0.3,0.3,0.3,0.3,
  0.3,0.3,0.3,0.3,0.3,0.3,0.3,0.4,0.3,0.3,
  0.3,0.3,0.3,0.3,0.3,0.3,0.3,0.3,0.3,0.3,
  0.3,0.3,0.4,0.3,0.3,0.3,0.3,0.3,0.3,0.3,
  0.3,0.3,0.3,0.3,0.3,0.3,0.3,0.3,0.3,0.3,
  0.3,0.3,0.3,0.3,0.3,0.3,0.3,0.3,0.3,0.3,
  0.3,0.3,0.3,0.3,0.3,0.3,0.3,0.3,0.3,0.3,
  0.3,0.3,0.3,0.3,0.3,0.3,0.3,0.3,0.3,0.3,
  0.3,0.3,0.3,0.3,0.3,0.3,0.3,0.3,0.3,0.3,
  0.3,0.3,0.3,0.3,0.3,0.3,0.3,0.3,0.3,0.3,
  0.3,0.3,0.3,0.3,0.3,0.3,0.3,0.3,0.3,0.3,
  0.3,0.3,0.3,0.3,0.3,0.3,0.3,0.3,0.3,0.3,
  0.3,0.3,0.3,0.3,0.3,0.3,0.3,0.3,0.3,0.3,
  1.8,2.0,1.5,0.3,3.1,3.0,2.8,2.6,3.2,0.3,
  3.0,3.3,3.0,0.3,0.3,3.1,2.4,0.3,2.8,2.8,
  2.4,2.6,0.3,2.6,0.3,0.5,0.4,0.6,0.4,0.5,
  0.5,0.4,0.5,0.3,0.2,0.2,0.2,0.2,0.2,0.3,
  0.2,0.3,0.3,0.5,4.0,
];
const L6_LO = [
  -1.1,-0.3,-0.3,-0.9,-0.3,-0.9,-0.3,-0.3,-0.3,-0.3,
  -0.5,-0.9,-1.0,-0.8,-1.0,-0.9,-0.5,-0.3,-0.4,-0.3,
  -0.4,-0.6,-0.4,-0.3,-0.3,-0.9,-0.3,-0.3,-0.4,-0.8,
  -0.4,-0.3,-0.3,-0.8,-1.0,-1.2,-1.3,-1.4,-1.5,-1.4,
  -1.4,-1.3,-1.2,-1.0,-0.3,-0.2,-0.2,-0.2,-0.3,-0.4,
  -0.3,-0.3,-0.4,-1.0,-1.2,-1.1,-1.2,-2.5,-0.3,-0.3,
  -0.3,-0.7,-0.8,-0.6,-0.5,-0.3,-0.3,-0.6,-0.7,-0.6,
  -0.7,-0.6,-0.6,-0.5,-0.3,-1.0,-0.3,-1.1,-1.0,-0.8,
  -0.8,-0.7,-0.3,-0.8,-0.9,-0.4,-0.8,-0.8,-0.3,-0.5,
  -0.4,-0.5,-0.5,-0.6,-0.5,-0.5,-0.6,-0.5,-0.5,-0.6,
  -0.5,-0.6,-0.5,-0.5,-0.6,-0.5,-0.5,-0.6,-0.5,-0.4,
  -0.5,-0.4,-0.4,-1.2,-1.2,-1.1,-0.5,-0.4,-0.4,-0.6,
  -0.4,-0.4,-0.5,-0.5,-0.4,-0.4,-1.0,-0.8,-0.6,-0.5,
  -0.4,-0.5,-0.4,-0.5,-0.4,-0.5,-0.4,-0.5,-0.4,-0.5,
  -0.4,-0.5,-0.4,-0.5,-0.4,-0.5,-0.4,-0.5,-0.4,-0.5,
  -0.4,-0.5,-0.4,-0.5,-0.4,-0.5,-0.4,-0.5,-0.4,-0.5,
  -0.4,-0.5,-0.4,-0.5,-0.4,-0.5,-0.4,-0.5,-0.4,-0.5,
  -0.4,-0.5,-0.4,-0.5,-0.4,-0.5,-0.4,-0.5,-0.4,-0.5,
  -0.4,-0.5,-0.4,-0.5,-0.4,-0.5,-0.4,-0.5,-0.4,-0.5,
  -0.4,-0.5,-0.4,-0.5,-0.4,-0.5,-0.4,-0.5,-0.4,-0.5,
  -0.4,-0.5,-0.4,-0.5,-0.4,-0.5,-0.4,-0.5,-0.4,-0.5,
  -0.4,-0.5,-0.4,-0.5,-0.4,-0.5,-0.4,-0.5,-0.4,-0.5,
  -0.4,-0.5,-0.4,-0.5,-0.4,-0.5,-0.4,-0.5,-0.4,-0.5,
  -0.4,-0.5,-0.4,-0.5,-0.4,-0.5,-0.4,-0.5,-0.4,-0.5,
  -0.4,-0.5,-0.4,-0.5,-0.4,-0.5,-0.4,-0.5,-0.4,-0.5,
  -0.4,-0.5,-0.4,-0.5,-0.4,-0.5,-0.4,-0.5,-0.4,-0.5,
  -0.5,-0.3,-0.3,-0.5,-0.6,-0.5,-0.6,-0.5,-2.0,-2.1,
  -2.1,-2.0,-2.1,-2.0,-0.3,-0.8,-0.7,-0.8,-0.8,-0.7,
  -0.8,-0.8,-0.7,-0.8,-0.8,-0.7,-0.8,-0.8,-0.7,-0.8,
  -0.8,-0.7,-0.3,-0.3,-0.3,-0.4,-0.3,-0.3,-0.9,-0.9,
  -0.9,-0.9,-0.9,-0.9,-0.8,-0.9,-0.3,-0.3,-0.3,-0.3,
  -0.3,-0.3,-0.3,-0.3,-1.3,-0.3,-0.3,-0.3,-0.3,-0.6,
  -0.6,-0.6,-0.6,-0.3,-0.8,-0.7,-0.8,-0.7,-0.8,-0.3,
  -0.8,-0.8,-0.8,-0.3,-0.3,-0.8,-0.7,-0.3,-0.8,-0.8,
  -0.8,-0.8,-0.3,-0.7,-0.3,-0.8,-0.7,-0.8,-0.7,-0.8,
  -0.8,-0.8,-0.8,-0.3,-0.2,-0.2,-0.2,-0.2,-0.2,-0.2,
  -0.2,-0.2,-0.2,-0.3,-0.8,
];

// ---------- annual maxima (bottom "Max" row) ----------
const MAX_SERIES = ["L6", "W4", "S2/S3", "D1", "W5"];
const MAX_DAY = [4.8, 56.7, 78.8, 180.5, 200.5];
const MAX_VALUE = [5.2, -3.2, 6.7, 6.9, 5.9];
const MAX_MARKER_COLOR = ["#9b5a4a", "#ee2828", "#f07f10", "#0a7bc0", "#9c64ba"];
const MAX_STEM_COLOR = ["#a86b5e", "#ee3a3a", "#1fa640", "#0a7bc0", "#9c64ba"];

// ---------- right-hand "Max" column ----------
const RIGHT_HEADER = "Max";
const RIGHT_SERIES = ["L6", "W5", "W4", "S3", "S2", "D1"];
const RIGHT_DATES = ["16/07", "06/08", "06/08", "24/11", "08/07", "18/12"];
const RIGHT_HOURS = ["8", "11", "11", "9", "8", "9"];
const RIGHT_AMPM = ["am", "am", "am", "am", "am", "am"];

const SERIES_HI = [D1_HI, S2_HI, S3_HI, W4_HI, W5_HI, L6_HI];
const SERIES_LO = [D1_LO, S2_LO, S3_LO, W4_LO, W5_LO, L6_LO];

const fmtVal = (v: number) => (v < 0 ? "\u2212" + Math.abs(v).toFixed(1) : v.toFixed(1));

function makeSplitMarker(r: number, left: string, right: string) {
  const c = document.createElement("canvas");
  const s = Math.ceil(2 * r + 6);
  c.width = s;
  c.height = s;
  const ctx = c.getContext("2d")!;
  const cx = s / 2, cy = s / 2;
  ctx.fillStyle = left;
  ctx.beginPath();
  ctx.moveTo(cx, cy);
  ctx.arc(cx, cy, r, Math.PI / 2, (3 * Math.PI) / 2);
  ctx.closePath();
  ctx.fill();
  ctx.fillStyle = right;
  ctx.beginPath();
  ctx.moveTo(cx, cy);
  ctx.arc(cx, cy, r, -Math.PI / 2, Math.PI / 2);
  ctx.closePath();
  ctx.fill();
  ctx.strokeStyle = "#000";
  ctx.lineWidth = 3;
  ctx.beginPath();
  ctx.arc(cx, cy, r - 1.5, 0, Math.PI * 2);
  ctx.stroke();
  return c;
}

export default function App() {
  const ref = useRef<HTMLCanvasElement>(null);

  useEffect(() => {
    const canvas = ref.current!;
    const datasets: any[] = [];

    SERIES.forEach((name, i) => {
      datasets.push({
        type: "line",
        label: name + " base",
        data: [
          { x: 0, y: SERIES_OFFSET[i] },
          { x: 365, y: SERIES_OFFSET[i] },
        ],
        borderColor: SERIES_COLOR[i],
        borderWidth: 4.5,
        pointRadius: 0,
        order: 5,
      });
    });

    SERIES.forEach((name, i) => {
      const hi = SERIES_HI[i];
      const lo = SERIES_LO[i];
      datasets.push({
        type: "bar",
        label: name,
        data: hi.map((h, d) => ({ x: d + 0.5, y: [SERIES_OFFSET[i] + lo[d], SERIES_OFFSET[i] + h] })),
        backgroundColor: SERIES_COLOR[i],
        borderWidth: 0,
        barThickness: 5.5,
        grouped: false,
        order: 4,
      });
    });

    datasets.push({
      type: "line",
      label: "Max line",
      data: [
        { x: 0, y: 0 },
        { x: 365, y: 0 },
      ],
      borderColor: "#000",
      borderWidth: 4,
      pointRadius: 0,
      order: 2,
    });

    datasets.push({
      type: "bar",
      label: "Max stems",
      data: MAX_DAY.map((d, i) => ({ x: d, y: [0, MAX_VALUE[i]] })),
      backgroundColor: MAX_STEM_COLOR,
      borderWidth: 0,
      barThickness: 5,
      grouped: false,
      order: 3,
    });

    const split = makeSplitMarker(18.5, "#f07f10", "#1a9a3a");
    const markerIndex = datasets.length;
    datasets.push({
      type: "scatter",
      label: "Max markers",
      data: MAX_DAY.map((d, i) => ({ x: d, y: MAX_VALUE[i] })),
      pointRadius: 18.5,
      pointHoverRadius: 18.5,
      pointBorderWidth: 0,
      pointBackgroundColor: MAX_MARKER_COLOR,
      pointStyle: MAX_SERIES.map((s) => (s === "S2/S3" ? split : "circle")),
      showLine: false,
      order: 1,
    });

    const overlay = {
      id: "overlay",
      afterDatasetsDraw(chart: any) {
        const { ctx, chartArea } = chart;
        const { left, top, right, bottom } = chartArea;
        const yScale = chart.scales.y;
        ctx.save();
        ctx.strokeStyle = "#3d3d3d";
        ctx.lineWidth = 4;
        ctx.strokeRect(left, top, right - left, bottom - top);

        const meta = chart.getDatasetMeta(markerIndex);
        ctx.fillStyle = "#111";
        ctx.font = '55px "DejaVu Sans"';
        ctx.textAlign = "left";
        ctx.textBaseline = "middle";
        meta.data.forEach((pt: any, i: number) => {
          ctx.fillText(fmtVal(MAX_VALUE[i]), pt.x + 30, pt.y - 4);
        });

        ctx.font = '70px "Liberation Serif"';
        ctx.textBaseline = "alphabetic";
        ctx.textAlign = "left";
        ctx.fillText(RIGHT_HEADER, right + 45, 70);
        RIGHT_SERIES.forEach((s, i) => {
          const off = SERIES_OFFSET[SERIES.indexOf(s)];
          const yb = yScale.getPixelForValue(off) - 5;
          ctx.textAlign = "left";
          ctx.fillText(RIGHT_DATES[i], right + 48, yb);
          ctx.textAlign = "center";
          ctx.fillText(RIGHT_HOURS[i], right + 292, yb);
          ctx.textAlign = "left";
          ctx.fillText(RIGHT_AMPM[i], right + 352, yb);
        });
        ctx.restore();
      },
    };

    const chart = new Chart(canvas, {
      type: "line",
      data: { datasets },
      options: {
        animation: false,
        responsive: false,
        devicePixelRatio: 1,
        events: [],
        layout: { padding: { left: 0, top: 103, right: 451, bottom: 0 } },
        plugins: { legend: { display: false }, tooltip: { enabled: false } },
        scales: {
          x: {
            type: "linear",
            min: 0,
            max: 365,
            offset: false,
            afterBuildTicks: (scale: any) => {
              scale.ticks = MONTH_TICKS.map((v) => ({ value: v }));
            },
            afterFit: (scale: any) => {
              scale.height = 142;
            },
            ticks: {
              autoSkip: false,
              maxRotation: 0,
              padding: 4,
              color: "#111",
              font: { family: "Liberation Serif", size: 50 },
              callback: (_v: any, i: number) => MONTHS[i],
            },
            grid: {
              offset: false,
              color: "#c4c4c4",
              lineWidth: 2.5,
              tickColor: "#333",
              tickLength: 12,
              tickWidth: 3,
            },
            border: { display: false },
            title: {
              display: true,
              text: "Month",
              color: "#111",
              font: { family: "Liberation Serif", size: 57, lineHeight: 1 },
              padding: { top: 0, bottom: 7 },
            },
          },
          y: {
            type: "linear",
            min: -7.1,
            max: 80.8,
            afterBuildTicks: (scale: any) => {
              scale.ticks = Y_TICK_VALUES.map((v) => ({ value: v }));
            },
            afterFit: (scale: any) => {
              scale.width = 213;
            },
            ticks: {
              autoSkip: false,
              padding: 15,
              color: "#111",
              font: { family: "Liberation Serif", size: 50 },
              callback: (_v: any, i: number) => Y_TICK_LABELS[i],
            },
            grid: {
              drawOnChartArea: false,
              color: "#333",
              tickColor: "#333",
              tickLength: 13,
              tickWidth: 3,
            },
            border: { display: false },
            title: {
              display: true,
              text: "MRT - med. MRT [°C]",
              color: "#111",
              font: { family: "Liberation Serif", size: 60, lineHeight: 1 },
              padding: { top: 15, bottom: 0 },
            },
          },
        },
      },
      plugins: [overlay],
    } as any);

    return () => chart.destroy();
  }, []);

  return (
    <div style={{ position: "absolute", left: 0, top: 0, width: 3347, height: 1454, background: "#fff" }}>
      <canvas ref={ref} width={3347} height={1454} style={{ width: 3347, height: 1454, display: "block" }} />
    </div>
  );
}
